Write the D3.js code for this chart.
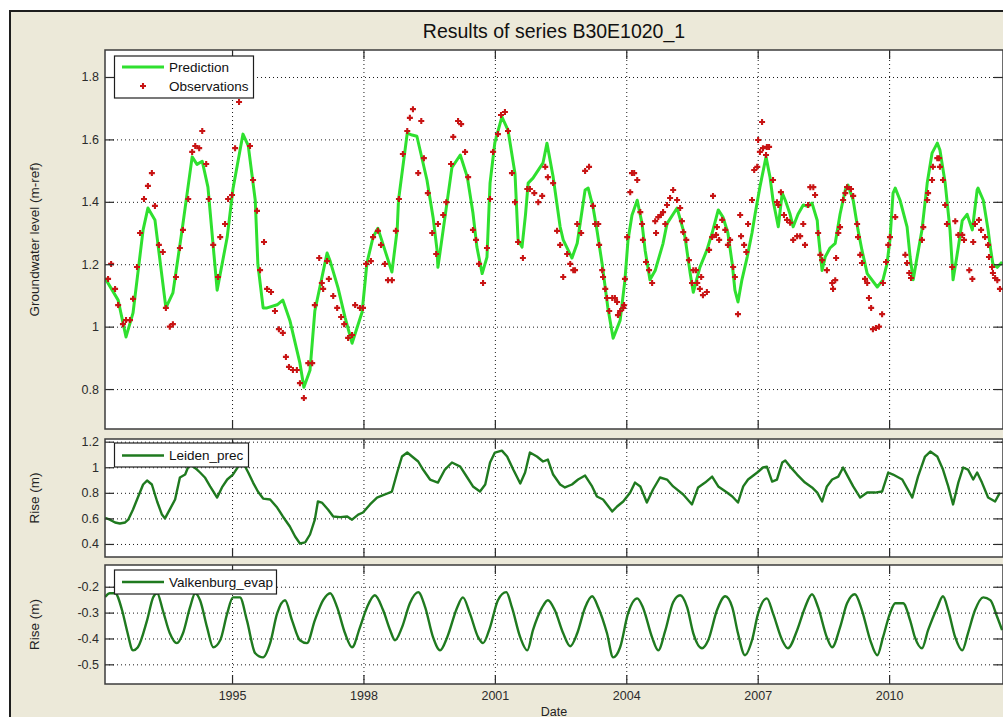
<!DOCTYPE html>
<html>
<head>
<meta charset="utf-8">
<script src="https://cdn.jsdelivr.net/npm/d3@7"></script>
<style>
  html, body { margin: 0; padding: 0; background: #ffffff; }
  svg text { font-family: "Liberation Sans", Arial, Helvetica, sans-serif; }
</style>
</head>
<body>
<svg id="fig" width="1003" height="717"></svg>
<script>
// ---- Groundwater model results, series B30E1020_1 ----
const chartTitle = "Results of series B30E1020_1";

// Simulated head (decimal year, m-ref)
const predYear = [1992.10,1992.40,1992.58,1992.74,1992.97,1993.08,1993.24,1993.49,1993.65,1993.86,1994.09,1994.20,1994.32,1994.45,1994.66,1994.89,1995.02,1995.25,1995.37,1995.53,1995.59,1995.71,1995.80,1996.03,1996.16,1996.32,1996.55,1996.64,1996.78,1996.89,1997.17,1997.24,1997.42,1997.58,1997.74,1997.97,1998.08,1998.22,1998.33,1998.65,1998.77,1998.80,1999.00,1999.11,1999.22,1999.45,1999.59,1999.68,1999.70,1999.82,2000.02,2000.21,2000.37,2000.50,2000.59,2000.71,2000.82,2000.89,2001.00,2001.16,2001.30,2001.46,2001.53,2001.62,2001.70,2001.76,2001.87,2002.10,2002.19,2002.33,2002.49,2002.56,2002.76,2002.88,2003.06,2003.13,2003.24,2003.33,2003.45,2003.58,2003.70,2003.86,2003.97,2004.04,2004.13,2004.25,2004.36,2004.43,2004.54,2004.66,2004.84,2004.93,2005.16,2005.30,2005.34,2005.46,2005.53,2005.68,2005.84,2005.96,2006.10,2006.21,2006.32,2006.42,2006.48,2006.55,2006.64,2006.76,2006.87,2006.94,2007.05,2007.19,2007.28,2007.35,2007.47,2007.56,2007.63,2007.74,2007.81,2007.92,2008.04,2008.15,2008.24,2008.36,2008.38,2008.47,2008.54,2008.65,2008.77,2008.88,2009.00,2009.06,2009.18,2009.29,2009.38,2009.50,2009.73,2009.86,2009.95,2010.02,2010.09,2010.14,2010.25,2010.41,2010.48,2010.55,2010.64,2010.75,2010.87,2010.98,2011.10,2011.16,2011.28,2011.39,2011.44,2011.46,2011.58,2011.67,2011.78,2011.90,2012.01,2012.03,2012.15,2012.26,2012.31,2012.37,2012.47,2012.58];
const predLevel = [1.156,1.085,0.967,1.044,1.310,1.380,1.342,1.060,1.108,1.310,1.544,1.520,1.530,1.447,1.117,1.287,1.440,1.617,1.580,1.405,1.200,1.060,1.060,1.070,1.085,1.020,0.883,0.806,0.860,1.050,1.236,1.210,1.124,1.030,0.947,1.047,1.204,1.287,1.315,1.175,1.310,1.405,1.620,1.614,1.610,1.470,1.350,1.245,1.190,1.310,1.510,1.550,1.480,1.364,1.255,1.170,1.223,1.460,1.590,1.672,1.630,1.490,1.278,1.255,1.360,1.460,1.476,1.525,1.588,1.480,1.320,1.278,1.220,1.267,1.438,1.444,1.384,1.310,1.200,1.060,0.963,1.020,1.150,1.278,1.357,1.405,1.330,1.245,1.150,1.180,1.267,1.330,1.380,1.310,1.287,1.170,1.110,1.190,1.245,1.300,1.374,1.350,1.300,1.200,1.117,1.079,1.150,1.223,1.300,1.360,1.447,1.544,1.480,1.405,1.320,1.428,1.405,1.360,1.320,1.360,1.390,1.385,1.396,1.340,1.300,1.180,1.223,1.252,1.267,1.360,1.438,1.454,1.405,1.310,1.245,1.170,1.127,1.150,1.200,1.278,1.428,1.444,1.405,1.320,1.223,1.150,1.223,1.310,1.460,1.556,1.588,1.566,1.460,1.310,1.200,1.150,1.255,1.340,1.360,1.310,1.438,1.444,1.405,1.310,1.255,1.200,1.190,1.207];

// Observed head (decimal year, m-ref)
const obsYear = [1992.17,1992.24,1992.33,1992.40,1992.51,1992.58,1992.67,1992.74,1992.83,1992.90,1992.99,1993.08,1993.17,1993.24,1993.33,1993.42,1993.49,1993.58,1993.65,1993.72,1993.81,1993.88,1994.00,1994.09,1994.16,1994.25,1994.32,1994.41,1994.47,1994.57,1994.68,1994.73,1994.84,1994.91,1995.00,1995.07,1995.16,1995.41,1995.48,1995.57,1995.64,1995.73,1995.80,1995.89,1995.98,1996.07,1996.16,1996.23,1996.30,1996.39,1996.48,1996.55,1996.64,1996.74,1996.83,1996.89,1996.99,1997.05,1997.08,1997.17,1997.21,1997.31,1997.40,1997.49,1997.56,1997.65,1997.74,1997.81,1997.92,1997.99,1998.06,1998.17,1998.22,1998.33,1998.40,1998.49,1998.56,1998.65,1998.74,1998.81,1998.90,1999.00,1999.06,1999.13,1999.25,1999.32,1999.38,1999.47,1999.57,1999.66,1999.70,1999.82,1999.89,2000.00,2000.05,2000.16,2000.23,2000.32,2000.39,2000.50,2000.57,2000.64,2000.73,2000.82,2000.89,2000.96,2001.07,2001.14,2001.23,2001.30,2001.39,2001.46,2001.53,2001.64,2001.74,2001.80,2001.90,2001.99,2002.08,2002.15,2002.21,2002.33,2002.42,2002.49,2002.56,2002.65,2002.72,2002.79,2002.83,2002.88,2002.97,2003.06,2003.15,2003.24,2003.29,2003.36,2003.38,2003.45,2003.47,2003.52,2003.56,2003.61,2003.68,2003.74,2003.79,2003.81,2003.86,2003.93,2003.95,2003.97,2004.02,2004.09,2004.13,2004.18,2004.25,2004.32,2004.36,2004.38,2004.45,2004.52,2004.59,2004.66,2004.68,2004.73,2004.79,2004.84,2004.89,2004.93,2005.00,2005.07,2005.16,2005.23,2005.27,2005.30,2005.37,2005.43,2005.50,2005.53,2005.59,2005.62,2005.68,2005.71,2005.75,2005.84,2005.89,2005.96,2005.98,2006.05,2006.07,2006.12,2006.19,2006.26,2006.32,2006.37,2006.44,2006.48,2006.55,2006.60,2006.62,2006.69,2006.74,2006.78,2006.87,2006.92,2006.99,2007.01,2007.05,2007.10,2007.12,2007.19,2007.21,2007.26,2007.35,2007.44,2007.47,2007.53,2007.60,2007.67,2007.74,2007.81,2007.90,2007.97,2008.04,2008.08,2008.15,2008.20,2008.27,2008.31,2008.38,2008.43,2008.47,2008.58,2008.70,2008.72,2008.77,2008.79,2008.84,2008.88,2008.95,2009.00,2009.04,2009.13,2009.18,2009.27,2009.29,2009.34,2009.38,2009.45,2009.50,2009.54,2009.59,2009.63,2009.70,2009.77,2009.84,2009.86,2009.93,2009.98,2010.02,2010.14,2010.37,2010.41,2010.46,2010.50,2010.75,2010.78,2010.87,2010.89,2010.98,2011.00,2011.10,2011.14,2011.16,2011.23,2011.28,2011.32,2011.44,2011.51,2011.58,2011.67,2011.71,2011.83,2011.90,2011.92,2011.96,2012.05,2012.10,2012.19,2012.26,2012.28,2012.35,2012.37,2012.42,2012.47,2012.53];
const obsLevel = [1.153,1.201,1.121,1.069,1.008,1.021,1.021,1.089,1.191,1.300,1.409,1.451,1.492,1.387,1.262,1.239,1.060,1.000,1.008,1.159,1.252,1.310,1.409,1.560,1.579,1.572,1.627,1.521,1.409,1.262,1.159,1.287,1.329,1.409,1.422,1.572,1.720,1.579,1.470,1.371,1.181,1.271,1.121,1.111,1.050,0.992,0.980,0.903,0.871,0.861,0.861,0.819,0.771,0.883,0.883,1.069,1.220,1.140,1.121,1.210,1.153,1.098,1.060,1.031,1.008,0.964,0.973,1.069,1.060,1.060,1.201,1.210,1.287,1.307,1.262,1.201,1.149,1.149,1.307,1.409,1.553,1.627,1.669,1.697,1.492,1.659,1.540,1.428,1.300,1.233,1.329,1.358,1.399,1.521,1.608,1.659,1.649,1.560,1.479,1.310,1.278,1.201,1.140,1.252,1.409,1.560,1.617,1.678,1.688,1.627,1.492,1.399,1.271,1.220,1.441,1.441,1.428,1.399,1.419,1.512,1.479,1.460,1.307,1.262,1.159,1.233,1.201,1.181,1.181,1.329,1.300,1.499,1.512,1.387,1.329,1.329,1.262,1.181,1.159,1.121,1.092,1.050,1.092,1.092,1.079,1.037,1.050,1.060,1.069,1.153,1.287,1.431,1.492,1.492,1.470,1.367,1.329,1.278,1.207,1.181,1.140,1.338,1.300,1.351,1.358,1.367,1.329,1.390,1.412,1.438,1.406,1.380,1.338,1.303,1.278,1.213,1.140,1.181,1.181,1.140,1.121,1.159,1.101,1.111,1.246,1.287,1.419,1.294,1.319,1.278,1.342,1.310,1.262,1.278,1.191,1.159,1.040,1.358,1.290,1.262,1.239,1.329,1.406,1.502,1.512,1.598,1.560,1.656,1.572,1.550,1.576,1.576,1.470,1.399,1.390,1.431,1.358,1.342,1.333,1.278,1.290,1.290,1.329,1.262,1.390,1.447,1.447,1.422,1.300,1.230,1.213,1.181,1.140,1.121,1.149,1.220,1.300,1.319,1.406,1.428,1.447,1.441,1.419,1.329,1.287,1.230,1.204,1.153,1.140,1.092,1.060,0.992,0.996,1.000,1.040,1.140,1.207,1.262,1.287,1.351,1.230,1.204,1.172,1.156,1.278,1.319,1.406,1.428,1.470,1.512,1.540,1.540,1.512,1.470,1.390,1.329,1.191,1.338,1.294,1.294,1.278,1.181,1.153,1.271,1.329,1.342,1.310,1.287,1.262,1.223,1.191,1.172,1.156,1.149,1.121];

// Contribution of precipitation, Leiden (m)
const precYear = [1992.10,1992.21,1992.33,1992.44,1992.56,1992.63,1992.74,1992.85,1992.97,1993.06,1993.17,1993.29,1993.40,1993.47,1993.58,1993.70,1993.81,1993.93,1994.04,1994.11,1994.20,1994.27,1994.38,1994.50,1994.66,1994.77,1994.89,1995.02,1995.14,1995.25,1995.37,1995.48,1995.59,1995.71,1995.87,1996.03,1996.16,1996.32,1996.44,1996.55,1996.67,1996.78,1996.89,1996.96,1997.05,1997.19,1997.31,1997.47,1997.63,1997.74,1997.88,1997.99,1998.15,1998.31,1998.49,1998.65,1998.77,1998.88,1999.00,1999.11,1999.25,1999.36,1999.52,1999.70,1999.86,2000.02,2000.21,2000.37,2000.50,2000.66,2000.78,2000.89,2001.00,2001.16,2001.28,2001.42,2001.58,2001.69,2001.80,2001.96,2002.10,2002.21,2002.33,2002.49,2002.60,2002.76,2002.90,2003.06,2003.22,2003.33,2003.47,2003.68,2003.79,2003.93,2004.09,2004.20,2004.32,2004.47,2004.61,2004.77,2004.93,2005.07,2005.30,2005.50,2005.64,2005.80,2005.96,2006.10,2006.30,2006.42,2006.55,2006.67,2006.78,2006.99,2007.12,2007.21,2007.33,2007.44,2007.56,2007.63,2007.74,2007.90,2008.08,2008.24,2008.36,2008.47,2008.58,2008.70,2008.84,2008.95,2009.06,2009.18,2009.34,2009.50,2009.68,2009.84,2009.98,2010.09,2010.30,2010.53,2010.66,2010.82,2010.94,2011.10,2011.23,2011.35,2011.46,2011.58,2011.69,2011.80,2011.92,2012.01,2012.12,2012.26,2012.42,2012.53];
const precRise = [0.605,0.590,0.568,0.560,0.568,0.590,0.670,0.763,0.865,0.896,0.865,0.732,0.630,0.600,0.670,0.748,0.920,0.943,1.037,1.005,0.982,0.959,0.920,0.850,0.763,0.842,0.904,0.943,1.005,1.037,0.959,0.880,0.810,0.755,0.748,0.685,0.615,0.537,0.458,0.404,0.412,0.474,0.590,0.732,0.724,0.670,0.615,0.610,0.615,0.590,0.630,0.646,0.709,0.763,0.787,0.810,0.959,1.084,1.115,1.084,1.045,0.982,0.904,0.880,0.982,1.037,1.005,0.920,0.850,0.810,0.865,1.037,1.115,1.130,1.084,0.982,0.873,0.959,1.115,1.084,1.045,1.060,0.943,0.865,0.842,0.865,0.904,0.935,0.850,0.771,0.748,0.654,0.693,0.732,0.802,0.880,0.850,0.724,0.826,0.920,0.904,0.850,0.787,0.709,0.842,0.880,0.927,0.850,0.802,0.771,0.724,0.850,0.904,0.959,0.998,1.005,0.888,0.904,1.037,1.052,1.005,0.943,0.880,0.842,0.802,0.732,0.850,0.904,0.927,0.998,0.927,0.850,0.763,0.802,0.802,0.810,0.959,0.943,0.904,0.763,0.927,1.084,1.123,1.084,0.982,0.850,0.709,0.880,0.998,0.982,0.904,0.959,0.880,0.763,0.732,0.802];

// Contribution of evaporation, Valkenburg (m)
const evapYear = [1992.10,1992.21,1992.33,1992.49,1992.60,1992.74,1992.85,1993.06,1993.20,1993.29,1993.42,1993.58,1993.74,1993.88,1994.04,1994.16,1994.27,1994.43,1994.57,1994.73,1994.89,1995.02,1995.18,1995.34,1995.53,1995.71,1995.87,1996.03,1996.21,1996.37,1996.55,1996.71,1996.89,1997.08,1997.24,1997.40,1997.58,1997.74,1997.92,1998.08,1998.26,1998.45,1998.61,1998.72,1998.88,1999.06,1999.25,1999.41,1999.59,1999.75,1999.91,2000.14,2000.27,2000.43,2000.62,2000.73,2000.89,2001.07,2001.26,2001.39,2001.58,2001.74,2001.87,2002.08,2002.21,2002.37,2002.56,2002.72,2002.88,2003.06,2003.22,2003.36,2003.56,2003.70,2003.86,2004.04,2004.25,2004.38,2004.59,2004.73,2004.89,2005.07,2005.23,2005.39,2005.53,2005.73,2005.87,2006.07,2006.26,2006.42,2006.55,2006.71,2006.87,2007.01,2007.21,2007.35,2007.56,2007.69,2007.90,2008.08,2008.24,2008.38,2008.58,2008.70,2008.88,2009.04,2009.22,2009.38,2009.57,2009.73,2009.86,2010.02,2010.14,2010.32,2010.48,2010.59,2010.75,2010.89,2011.10,2011.23,2011.35,2011.51,2011.67,2011.80,2011.96,2012.15,2012.31,2012.47,2012.58];
const evapRise = [-0.240,-0.225,-0.225,-0.291,-0.368,-0.446,-0.434,-0.330,-0.241,-0.225,-0.291,-0.380,-0.418,-0.380,-0.280,-0.225,-0.252,-0.357,-0.434,-0.407,-0.303,-0.241,-0.241,-0.330,-0.457,-0.473,-0.418,-0.303,-0.252,-0.330,-0.407,-0.418,-0.330,-0.252,-0.225,-0.280,-0.380,-0.434,-0.357,-0.280,-0.233,-0.291,-0.368,-0.407,-0.357,-0.264,-0.221,-0.280,-0.396,-0.446,-0.396,-0.280,-0.241,-0.303,-0.396,-0.418,-0.357,-0.252,-0.221,-0.280,-0.396,-0.446,-0.368,-0.280,-0.252,-0.291,-0.380,-0.430,-0.380,-0.280,-0.237,-0.280,-0.380,-0.473,-0.434,-0.303,-0.245,-0.280,-0.396,-0.446,-0.370,-0.260,-0.233,-0.280,-0.380,-0.438,-0.407,-0.291,-0.237,-0.280,-0.380,-0.465,-0.407,-0.303,-0.245,-0.303,-0.407,-0.438,-0.368,-0.280,-0.229,-0.280,-0.396,-0.434,-0.357,-0.264,-0.229,-0.291,-0.407,-0.465,-0.396,-0.303,-0.264,-0.264,-0.330,-0.396,-0.438,-0.368,-0.280,-0.237,-0.291,-0.396,-0.446,-0.380,-0.291,-0.241,-0.252,-0.318,-0.368];

// Axis ticks
const yearTicks = [1995, 1998, 2001, 2004, 2007, 2010];
const levelTicks = [0.8, 1, 1.2, 1.4, 1.6, 1.8];
const precTicks = [0.4, 0.6, 0.8, 1, 1.2];
const evapTicks = [-0.5, -0.4, -0.3, -0.2];

// ---- Figure layout ----
const svg = d3.select("#fig");
const FIG_BG = "#ece9d9";
const X0 = 105, X1 = 1003;
const TICK = 9;

svg.append("rect")
  .attr("x", 10).attr("y", 11).attr("width", 1010).attr("height", 730)
  .attr("fill", FIG_BG).attr("stroke", "#1e1e1e").attr("stroke-width", 2);

const x = d3.scaleLinear().domain([1992.10, 2012.60]).range([X0, X1]);

const fmt = d => String(d);

function panel(y0, y1, domain, ticks, ylabel, showDates, id) {
  const y = d3.scaleLinear().domain(domain).range([y1, y0]);
  const g = svg.append("g");
  const h = y1 - y0;

  g.append("rect").attr("x", X0).attr("y", y0)
    .attr("width", X1 - X0).attr("height", h).attr("fill", "#ffffff");

  // dotted grid
  const gx = g.append("g").attr("transform", `translate(0,${y1})`)
    .call(d3.axisBottom(x).tickValues(yearTicks).tickSize(-h).tickFormat(""));
  const gy = g.append("g").attr("transform", `translate(${X0},0)`)
    .call(d3.axisLeft(y).tickValues(ticks).tickSize(-(X1 - X0)).tickFormat(""));
  [gx, gy].forEach(a => {
    a.select(".domain").remove();
    a.selectAll(".tick line").attr("stroke", "#1a1a1a").attr("stroke-width", 1)
      .attr("stroke-dasharray", "1,3");
  });

  svg.append("clipPath").attr("id", id).append("rect")
    .attr("x", X0).attr("y", y0).attr("width", X1 - X0).attr("height", h);
  const plot = g.append("g").attr("clip-path", `url(#${id})`);

  // frame and inward ticks on all four sides
  const frame = svg.append("g");
  const axes = [
    frame.append("g").attr("transform", `translate(0,${y1})`)
      .call(d3.axisBottom(x).tickValues(yearTicks).tickSize(-TICK).tickPadding(7)
        .tickFormat(showDates ? d3.format("d") : "")),
    frame.append("g").attr("transform", `translate(0,${y0})`)
      .call(d3.axisTop(x).tickValues(yearTicks).tickSize(-TICK).tickFormat("")),
    frame.append("g").attr("transform", `translate(${X0},0)`)
      .call(d3.axisLeft(y).tickValues(ticks).tickSize(-TICK).tickPadding(6).tickFormat(fmt)),
    frame.append("g").attr("transform", `translate(${X1},0)`)
      .call(d3.axisRight(y).tickValues(ticks).tickSize(-TICK).tickFormat(""))
  ];
  axes.forEach(a => {
    a.select(".domain").remove();
    a.selectAll(".tick line").attr("stroke", "#2a2a2a").attr("stroke-width", 1.2);
    a.selectAll(".tick text").attr("fill", "#2b2b2b")
      .style("font-size", "12.5px")
      .style("font-family", '"Liberation Sans", Arial, sans-serif');
  });
  frame.append("rect").attr("x", X0).attr("y", y0)
    .attr("width", X1 - X0).attr("height", h)
    .attr("fill", "none").attr("stroke", "#3c3c3c").attr("stroke-width", 1.5);

  svg.append("text")
    .attr("transform", `translate(34,${(y0 + y1) / 2}) rotate(-90)`)
    .attr("text-anchor", "middle").attr("dy", "0.35em")
    .attr("fill", "#222").style("font-size", "13.5px")
    .text(ylabel);

  return { y, plot };
}

function legend(x0, y0, w, h) {
  const lg = svg.append("g");
  lg.append("rect").attr("x", x0).attr("y", y0).attr("width", w).attr("height", h)
    .attr("fill", "#ffffff").attr("stroke", "#1e1e1e").attr("stroke-width", 1.2);
  return lg;
}

// ---- Top panel: groundwater level ----
const headPanel = panel(50, 429, [0.672, 1.8865], levelTicks, "Groundwater level (m-ref)", false, "clipHead");

headPanel.plot.append("path")
  .datum(d3.zip(predYear, predLevel))
  .attr("fill", "none").attr("stroke", "#2fe02f").attr("stroke-width", 3)
  .attr("stroke-linejoin", "round")
  .attr("d", d3.line().x(d => x(d[0])).y(d => headPanel.y(d[1])));

const plus = "M-3,0H3M0,-3V3";
headPanel.plot.selectAll(".obs").data(d3.zip(obsYear, obsLevel)).join("path")
  .attr("transform", d => `translate(${x(d[0])},${headPanel.y(d[1])})`)
  .attr("d", plus).attr("stroke", "#c81414").attr("stroke-width", 2.1);

const lg1 = legend(114.5, 56, 139, 42);
lg1.append("line").attr("x1", 122).attr("x2", 164).attr("y1", 67).attr("y2", 67)
  .attr("stroke", "#2fe02f").attr("stroke-width", 3);
lg1.append("text").attr("x", 169).attr("y", 72).attr("fill", "#111")
  .style("font-size", "13.5px").text("Prediction");
lg1.append("path").attr("transform", "translate(143,86)").attr("d", plus)
  .attr("stroke", "#c81414").attr("stroke-width", 2.1);
lg1.append("text").attr("x", 169).attr("y", 91).attr("fill", "#111")
  .style("font-size", "13.5px").text("Observations");

// ---- Middle panel: precipitation response ----
const precPanel = panel(439, 557, [0.298, 1.221], precTicks, "Rise (m)", false, "clipPrec");
precPanel.plot.append("path")
  .datum(d3.zip(precYear, precRise))
  .attr("fill", "none").attr("stroke", "#1f7a1f").attr("stroke-width", 2.4)
  .attr("stroke-linejoin", "round")
  .attr("d", d3.line().x(d => x(d[0])).y(d => precPanel.y(d[1])));

const lg2 = legend(114.5, 443, 134, 24);
lg2.append("line").attr("x1", 122).attr("x2", 164).attr("y1", 455.5).attr("y2", 455.5)
  .attr("stroke", "#1f7a1f").attr("stroke-width", 2.4);
lg2.append("text").attr("x", 169).attr("y", 460).attr("fill", "#111")
  .style("font-size", "13.5px").text("Leiden_prec");

// ---- Bottom panel: evaporation response ----
const evapPanel = panel(565, 684, [-0.576, -0.116], evapTicks, "Rise (m)", true, "clipEvap");
evapPanel.plot.append("path")
  .datum(d3.zip(evapYear, evapRise))
  .attr("fill", "none").attr("stroke", "#1f7a1f").attr("stroke-width", 2.4)
  .attr("stroke-linejoin", "round")
  .attr("d", d3.line().curve(d3.curveMonotoneX).x(d => x(d[0])).y(d => evapPanel.y(d[1])));

const lg3 = legend(114.5, 570, 162, 24);
lg3.append("line").attr("x1", 122).attr("x2", 164).attr("y1", 582).attr("y2", 582)
  .attr("stroke", "#1f7a1f").attr("stroke-width", 2.4);
lg3.append("text").attr("x", 169).attr("y", 587).attr("fill", "#111")
  .style("font-size", "13.5px").text("Valkenburg_evap");

// ---- Title and x label ----
svg.append("text").attr("x", (X0 + X1) / 2).attr("y", 38)
  .attr("text-anchor", "middle").attr("fill", "#111")
  .style("font-size", "19.5px").text(chartTitle);

svg.append("text").attr("x", (X0 + X1) / 2).attr("y", 715.5)
  .attr("text-anchor", "middle").attr("fill", "#222")
  .style("font-size", "12.5px").text("Date");
</script>
</body>
</html>
